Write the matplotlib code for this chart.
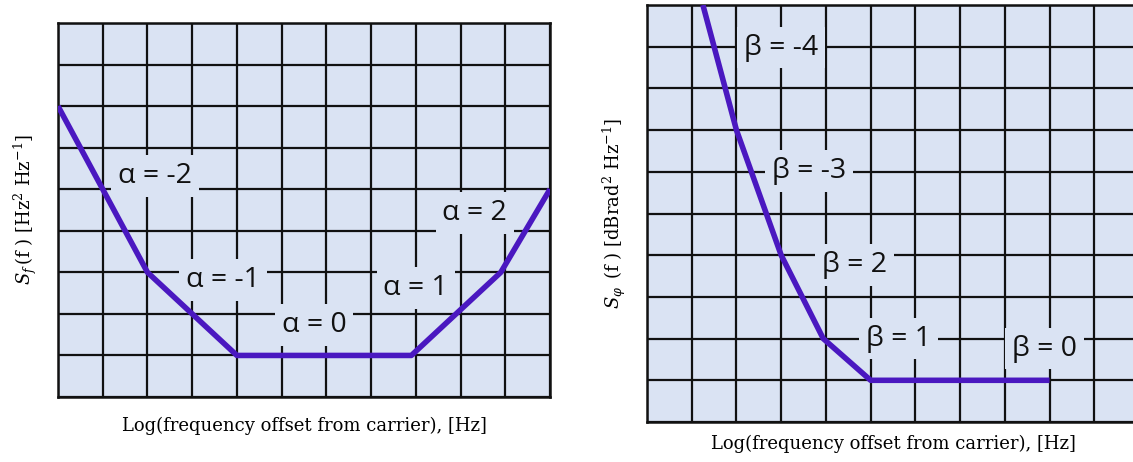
import matplotlib
matplotlib.use('Agg')
import matplotlib.pyplot as plt

plt.rcParams['mathtext.fontset'] = 'dejavuserif'

# data (grid units)
alpha_x = [0, 2, 4, 7.9, 9.9, 11]
alpha_y = [7, 3, 1, 1, 3, 5]
alpha_labels = ['α = -2', 'α = -1', 'α = 0', 'α = 1', 'α = 2']
alpha_lx = [2.17, 3.69, 5.73, 8.0, 9.32]
alpha_ly = [5.32, 2.82, 1.74, 2.62, 4.42]

beta_x = [1.25, 2, 3, 3.94, 5, 9]
beta_y = [10, 7, 4, 2, 1, 1]
beta_labels = ['β = -4', 'β = -3', 'β = 2', 'β = 1', 'β = 0']
beta_lx = [3.0, 3.62, 4.64, 5.62, 8.88]
beta_ly = [8.98, 6.02, 3.76, 2.0, 1.76]

panel = '#dae3f3'
purple = '#4a18c0'
xlab = 'Log(frequency offset from carrier), [Hz]'

fig = plt.figure(figsize=(11.33, 4.62), dpi=100)
W, H = 1133.0, 462.0


def make_ax(left, top, right, bottom, ncol, nrow):
    ax = fig.add_axes([left / W, 1 - bottom / H, (right - left) / W, (bottom - top) / H])
    ax.set_facecolor(panel)
    ax.set_xlim(0, ncol)
    ax.set_ylim(0, nrow)
    ax.set_xticks(range(ncol + 1))
    ax.set_yticks(range(nrow + 1))
    ax.grid(True, color='#111111', linewidth=1.6, zorder=1)
    ax.set_axisbelow(True)
    ax.tick_params(length=0, labelbottom=False, labelleft=False)
    for s in ax.spines.values():
        s.set_linewidth(1.8)
        s.set_color('#111111')
    return ax


def draw(ax, xs, ys, labels, lx, ly):
    ax.plot(xs, ys, color=purple, linewidth=4, zorder=4, solid_capstyle='butt')
    for t, x, y in zip(labels, lx, ly):
        ax.text(x, y, t, ha='center', va='center', fontsize=20.5,
                family=['Open Sans', 'DejaVu Sans'], color='#111111',
                zorder=3, bbox=dict(facecolor=panel, edgecolor='none', pad=5))


ax1 = make_ax(58, 23, 550, 397, 11, 9)
draw(ax1, alpha_x, alpha_y, alpha_labels, alpha_lx, alpha_ly)
ax1.set_xlabel(xlab, family='DejaVu Serif', fontsize=13, labelpad=14)
ax1.set_ylabel(r'$S_f\,$(f ) [Hz$^2$ Hz$^{-1}$]', family='DejaVu Serif',
               fontsize=13, labelpad=14)

ax2 = make_ax(647, 5, 1139, 422, 11, 10)
ax2.spines['right'].set_visible(False)
draw(ax2, beta_x, beta_y, beta_labels, beta_lx, beta_ly)
ax2.set_xlabel(xlab, family='DejaVu Serif', fontsize=13, labelpad=9)
ax2.set_ylabel(r'$S_\varphi\,$ (f ) [dBrad$^2$ Hz$^{-1}$]', family='DejaVu Serif',
               fontsize=13, labelpad=14)

fig.savefig('out.png', dpi=100)
